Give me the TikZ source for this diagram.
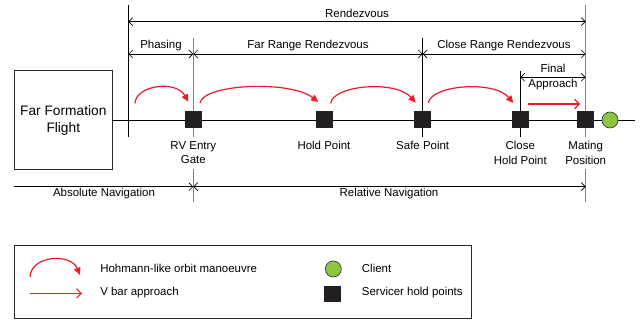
\documentclass[tikz,border=0pt]{standalone}
\usepackage{fontspec}
\setmainfont{Liberation Sans}
\usetikzlibrary{arrows.meta}
\definecolor{redarc}{HTML}{ED1C24}
\definecolor{holdsq}{HTML}{231F20}
\definecolor{clientg}{HTML}{8CC63F}
\begin{document}
\begin{tikzpicture}[x=0.75pt,y=-0.75pt,
  lbl/.style={font=\fontsize{8.6}{10.7}\selectfont, inner sep=0pt, align=center},
  legtxt/.style={font=\fontsize{8.6}{10.7}\selectfont, inner sep=0pt, anchor=west},
  holdpt/.style={fill=holdsq, draw=none, minimum size=12.75pt, inner sep=0pt},
  clientpt/.style={circle, fill=clientg, draw=black!80, line width=0.5pt, minimum size=12pt, inner sep=0pt},
  dimline/.style={line width=0.5pt, {Straight Barb[length=3pt,width=6pt]}-{Straight Barb[length=3pt,width=6pt]}},
  dimright/.style={line width=0.5pt, -{Straight Barb[length=3pt,width=6pt]}},
  guide/.style={line width=0.6pt, draw=black},
  grayguide/.style={line width=0.8pt, draw=black!50},
  hoh/.style={draw=redarc, line width=0.9pt, -{Triangle[length=5.5pt,width=5pt]}},
  vbar/.style={draw=redarc, line width=0.8pt, -{Straight Barb[length=3.5pt,width=7pt]}}]
\useasboundingbox (0,0) rectangle (640,320);

% far formation box
\node[draw=black!85, line width=0.6pt, minimum width=73.5pt, minimum height=74.25pt,
      inner sep=0pt, align=center, font=\fontsize{10.3}{12.75}\selectfont] (ffbox) at (63.3,120) {Far Formation\\Flight};

% guide coordinates
\coordinate (g1t) at (128.3,4.7);   \coordinate (g1b) at (128.3,136.7);
\coordinate (g2t) at (193.3,37.7);  \coordinate (g2m) at (193.3,136.7);
\coordinate (g2n) at (193.3,169);   \coordinate (g2b) at (193.3,202);
\coordinate (g3t) at (422.7,37.7);  \coordinate (g3b) at (422.7,136.7);
\coordinate (g4t) at (520.3,70.7);  \coordinate (g4b) at (520.3,136.7);
\coordinate (g5t) at (585.7,4.7);   \coordinate (g5m) at (585.7,136.7);
\coordinate (g5n) at (585.7,169);   \coordinate (g5b) at (585.7,202);
\coordinate (lineend) at (635,120);

% main line
\draw[guide] (ffbox.east) -- (lineend);

% vertical guides
\draw[guide] (g1t) -- (g1b);
\draw[grayguide] (g2t) -- (g2m);
\draw[grayguide] (g2n) -- (g2b);
\draw[guide] (g3t) -- (g3b);
\draw[guide] (g4t) -- (g4b);
\draw[grayguide] (g5t) -- (g5m);
\draw[grayguide] (g5n) -- (g5b);

% dimension coordinates
\coordinate (r1) at (128.3,21.7); \coordinate (r2) at (585.7,21.7);
\coordinate (p1) at (128.3,54);   \coordinate (p2) at (193.3,54);
\coordinate (p3) at (422.7,54);   \coordinate (p4) at (585.7,54);
\coordinate (f1) at (520.3,77.3); \coordinate (f2) at (585.7,77.3);
\coordinate (n0) at (14,186.7);   \coordinate (n1) at (193.3,186.7); \coordinate (n2) at (585.7,186.7);

\draw[dimline] (r1) -- (r2);
\draw[dimline] (p1) -- (p2);
\draw[dimline] (p2) -- (p3);
\draw[dimline] (p3) -- (p4);
\draw[dimline] (f1) -- (f2);
\draw[dimright] (n0) -- (n1);
\draw[dimline] (n1) -- (n2);

% dimension labels
\node[lbl] (tRdv) at (357,13) {Rendezvous};
\node[lbl] (tPh) at (161,45.7) {Phasing};
\node[lbl] (tFar) at (308,45.7) {Far Range Rendezvous};
\node[lbl] (tClose) at (504,45.7) {Close Range Rendezvous};
\node[lbl] (tFin) at (553,77) {Final\\Approach};
\node[lbl] (tAbs) at (104,193.5) {Absolute Navigation};
\node[lbl] (tRel) at (389,193.5) {Relative Navigation};

% hold points
\node[holdpt] (sq1) at (193.5,120) {};
\node[holdpt] (sq2) at (324,120) {};
\node[holdpt] (sq3) at (422.7,120) {};
\node[holdpt] (sq4) at (520.3,120) {};
\node[holdpt] (sq5) at (585.7,120) {};
\node[clientpt] (cl) at (610,120) {};

% point labels
\node[lbl] (l1) at (193.3,152.8) {RV Entry\\Gate};
\node[lbl] (l2) at (324,145.3) {Hold Point};
\node[lbl] (l3) at (422.7,145.3) {Safe Point};
\node[lbl] (l4) at (520.3,152.8) {Close\\Hold Point};
\node[lbl] (l5) at (585.7,152.8) {Mating\\Position};

% hohmann arcs
\coordinate (a1s) at (135,103.3); \coordinate (a1e) at (188.3,101.7);
\coordinate (a2s) at (200,103);   \coordinate (a2e) at (318.3,102);
\coordinate (a3s) at (330.7,103.3); \coordinate (a3e) at (415.7,102.7);
\coordinate (a4s) at (428.3,103); \coordinate (a4e) at (513.3,103);
\draw[hoh] (a1s) .. controls (136,85) and (176,80) .. (a1e);
\draw[hoh] (a2s) .. controls (203,84) and (290,80) .. (a2e);
\draw[hoh] (a3s) .. controls (333,85) and (396,80) .. (a3e);
\draw[hoh] (a4s) .. controls (431,85) and (494,80) .. (a4e);

% v bar
\coordinate (vb1) at (528,104); \coordinate (vb2) at (580,104);
\draw[vbar] (vb1) -- (vb2);

% legend
\node[draw=black!85, line width=0.6pt, minimum width=342.9pt, minimum height=54.5pt, inner sep=0pt] (legend) at (243,281.6) {};
\coordinate (la1) at (30,277); \coordinate (la2) at (80,275);
\draw[hoh] (la1) .. controls (31,255) and (71,253) .. (la2);
\coordinate (lv1) at (30,293.3); \coordinate (lv2) at (82,293.3);
\draw[vbar] (lv1) -- (lv2);
\node[legtxt] (lt1) at (100,268) {Hohmann-like orbit manoeuvre};
\node[legtxt] (lt2) at (100,292.7) {V bar approach};
\node[clientpt] (lc) at (333.3,269) {};
\node[fill=holdsq, minimum width=12.75pt, minimum height=12pt, inner sep=0pt] (ls) at (332.5,294.2) {};
\node[legtxt] (lt3) at (361.7,268) {Client};
\node[legtxt] (lt4) at (361.7,293) {Servicer hold points};
\end{tikzpicture}
\end{document}
